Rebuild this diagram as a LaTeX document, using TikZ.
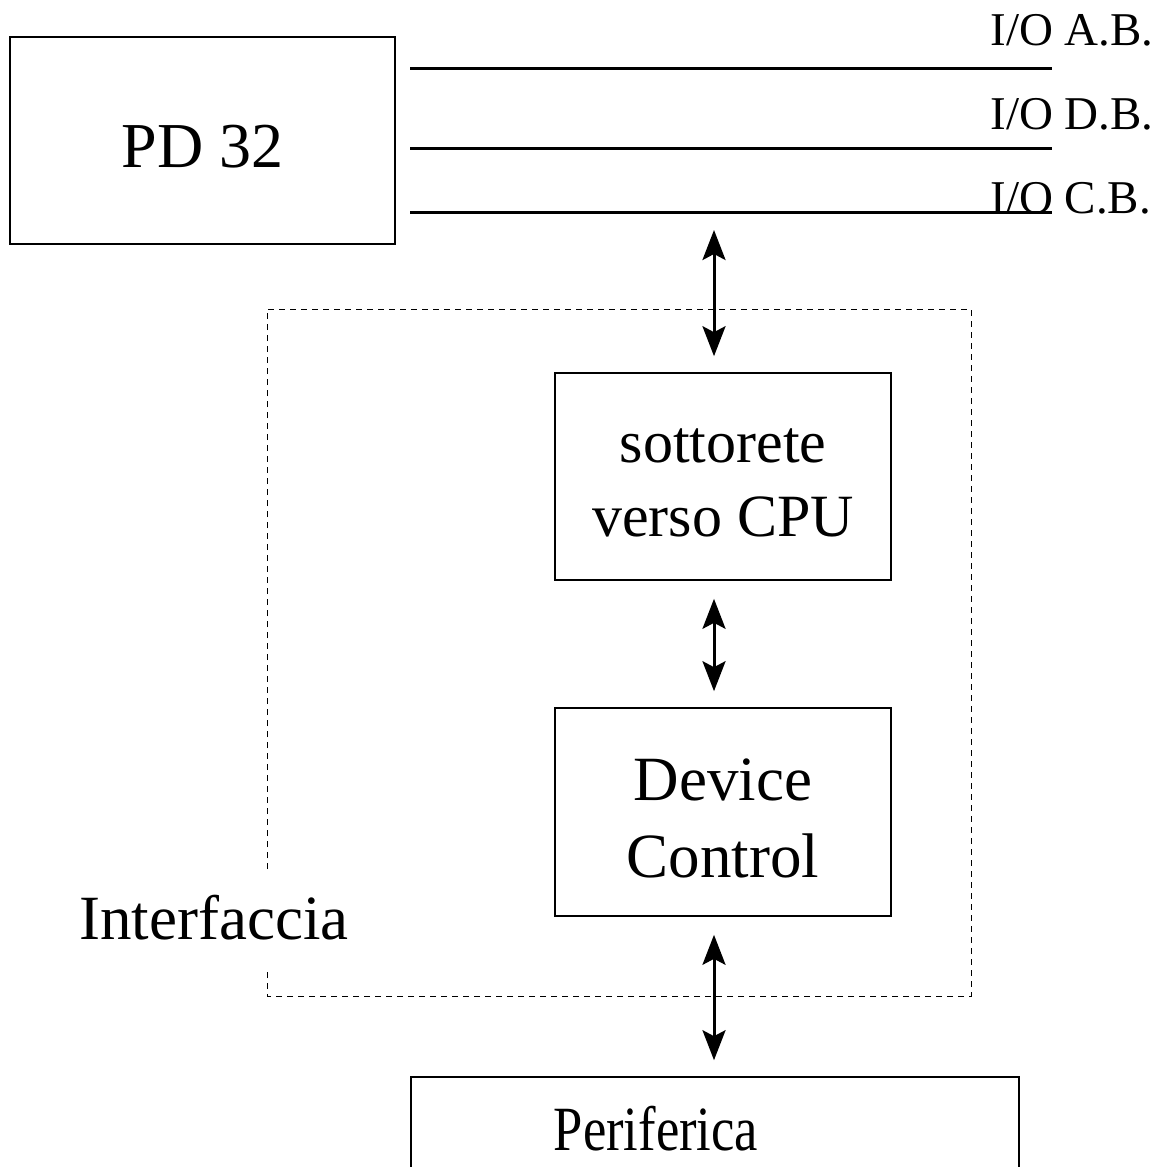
\documentclass[tikz,border=0pt]{standalone}
\usepackage{fontspec}
\setmainfont{Liberation Serif}
\usetikzlibrary{arrows.meta}

\begin{document}
\begin{tikzpicture}[x=0.5pt,y=-0.5pt,
  box/.style={draw,line width=0.8pt,inner sep=0pt,text depth=0pt},
  bus/.style={line width=1.5pt},
  link/.style={{Stealth[length=15pt,width=11.5pt,inset=3pt]}-{Stealth[length=15pt,width=11.5pt,inset=3pt]},line width=1.5pt,shorten <=9pt,shorten >=8pt},
  big/.style={font=\fontsize{31.5}{38.5}\selectfont,align=center},
  iolabel/.style={anchor=base west,inner sep=0pt,font=\fontsize{23.5}{28}\selectfont}]
\useasboundingbox (0,0) rectangle (1163,1167);

\node[box,minimum width=192.5pt,minimum height=103.5pt,text height=26.5pt,font=\fontsize{32}{38}\selectfont] (pd) at (202.5,140.5) {PD 32};

% bus lines
\draw[bus] (410,68) -- (1052,68);
\draw[bus] (410,148) -- (1052,148);
\draw[bus] (410,212) -- (1052,212);
\node[iolabel] (ab) at (990,46) {I/O A.B.};
\node[iolabel] (db) at (990,129) {I/O D.B.};
\node[iolabel] (cb) at (990,213) {I/O C.B.};
\coordinate (tap) at (714,212);

% interface
\draw[line width=0.5pt,dash pattern=on 3.2pt off 2.3pt] (267,869) -- (267,309) -- (971,309) -- (971,996) -- (267,996) -- (267,968);
\node[big,anchor=base] (intf) at (214,939) {Interfaccia};

\node[box,big,font=\fontsize{30}{37}\selectfont,minimum width=168pt,minimum height=103.5pt,text height=59.5pt] (sot) at (723,476.5) {sottorete\\verso CPU};
\node[box,big,minimum width=168pt,minimum height=104pt,text height=65pt] (dev) at (723,812) {Device\\Control};
\node[box,font=\fontsize{31.5}{38}\selectfont,minimum width=304pt,minimum height=52pt,text height=21pt] (peri) at (715,1129) {\scalebox{0.835}[1]{Periferica}\hspace*{59pt}};

\draw[link] (tap) -- (tap |- sot.north);
\draw[link] (tap |- sot.south) -- (tap |- dev.north);
\draw[link] (tap |- dev.south) -- (tap |- peri.north);
\end{tikzpicture}
\end{document}
